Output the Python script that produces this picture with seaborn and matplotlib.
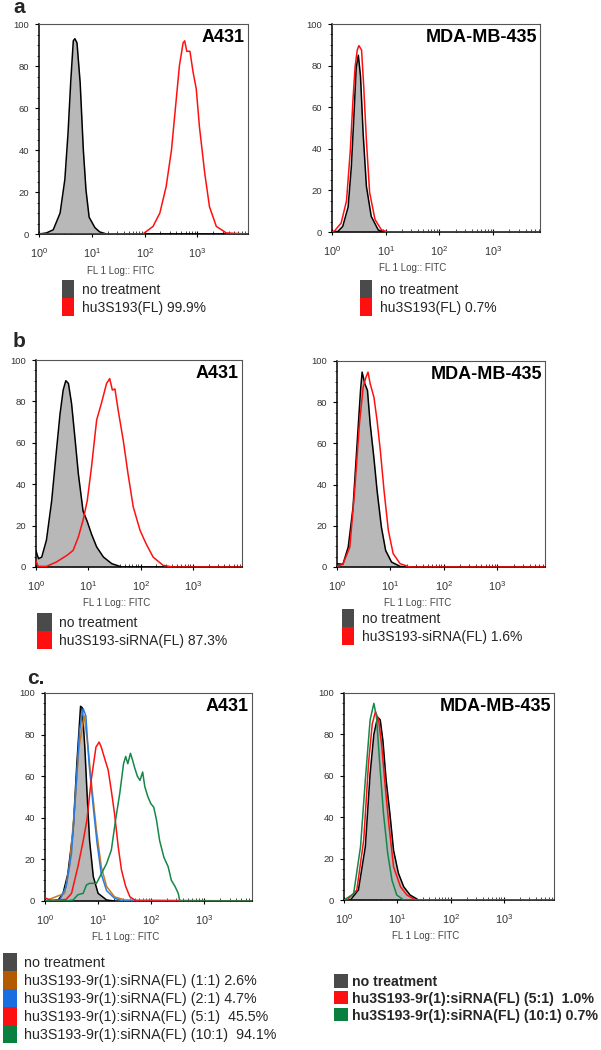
import numpy as np
import pandas as pd
import matplotlib
matplotlib.use("Agg")
import matplotlib.pyplot as plt
import seaborn as sns
from matplotlib.patches import Patch
from matplotlib.ticker import LogLocator, MultipleLocator, NullFormatter, LogFormatterMathtext

# ---------------- data (log10 FL1 positions, % of max counts) ----------------
CTRL = "no treatment"

# panel a, A431
a1_ctrl_log = [0.0, 0.14, 0.27, 0.40, 0.49, 0.55, 0.60, 0.65, 0.68, 0.72, 0.78, 0.84, 0.89, 0.95, 1.06, 1.15, 1.28, 3.96]
a1_ctrl_cnt = [0, 0.5, 2, 10, 26, 48, 72, 92, 93, 91, 72, 40, 21, 8, 3, 1, 0, 0]
a1_trt_log = [0.0, 1.97, 2.16, 2.29, 2.41, 2.51, 2.60, 2.66, 2.73, 2.76, 2.80, 2.86, 2.92, 2.98, 3.04, 3.14, 3.23, 3.36, 3.55, 3.96]
a1_trt_cnt = [0, 0, 3.6, 10, 22.7, 40, 64, 80, 91, 92, 87, 87, 77, 69, 51, 29, 13, 3.6, 0.5, 0]
# panel a, MDA-MB-435
a2_ctrl_log = [0.0, 0.11, 0.2, 0.3, 0.36, 0.41, 0.45, 0.49, 0.53, 0.58, 0.64, 0.73, 0.86, 0.95, 3.87]
a2_ctrl_cnt = [0, 0.3, 2.7, 12, 31.5, 57, 79, 85, 75, 47, 22, 7.5, 1, 0, 0]
a2_trt_log = [0.0, 0.05, 0.17, 0.27, 0.34, 0.39, 0.43, 0.47, 0.5, 0.55, 0.59, 0.64, 0.70, 0.8, 0.92, 1.04, 3.87]
a2_trt_cnt = [0, 0.6, 4.3, 15, 39, 63.5, 79.5, 87.5, 89.6, 87.5, 70, 44, 19, 6, 1, 0, 0]

# panel b, A431
b1_ctrl_log = [0.0, 0.02, 0.05, 0.11, 0.2, 0.3, 0.39, 0.46, 0.52, 0.57, 0.62, 0.68, 0.75, 0.81, 0.9, 0.98, 1.06, 1.16, 1.29, 1.45, 1.64, 3.94]
b1_ctrl_cnt = [8, 6, 4, 4.8, 13, 32, 56, 74, 85.5, 90, 88.7, 79, 61, 45, 27, 22, 16, 9.7, 4.8, 1.6, 0, 0]
b1_trt_log = [0.0, 0.04, 0.2, 0.39, 0.59, 0.71, 0.81, 0.9, 0.98, 1.06, 1.16, 1.25, 1.35, 1.41, 1.46, 1.51, 1.57, 1.67, 1.76, 1.86, 1.99, 2.11, 2.24, 2.43, 2.62, 3.94]
b1_trt_cnt = [3, 0.3, 0.3, 2.4, 5.6, 8, 14.5, 22.6, 32, 48, 71, 79, 88.7, 91, 85.5, 86, 76, 61, 45, 29, 17.7, 11, 4.8, 0.8, 0, 0]
# panel b, MDA-MB-435
b2_ctrl_log = [0.0, 0.11, 0.21, 0.3, 0.38, 0.44, 0.47, 0.52, 0.57, 0.62, 0.69, 0.75, 0.83, 0.91, 1.02, 1.18, 1.3, 3.89]
b2_ctrl_cnt = [1.6, 1.3, 9.7, 29, 61.5, 85.7, 94.6, 89, 85.7, 69.6, 53, 37, 19.4, 8, 2.4, 0.3, 0, 0]
b2_trt_log = [0.0, 0.11, 0.24, 0.33, 0.42, 0.49, 0.54, 0.58, 0.62, 0.69, 0.75, 0.81, 0.88, 0.96, 1.05, 1.18, 1.36, 3.89]
b2_trt_cnt = [0.3, 1.3, 9.7, 37, 69.6, 87.4, 92, 94.6, 89, 82.5, 71, 56.6, 37, 17.8, 6.5, 1.6, 0, 0]

# panel c, A431
c1_ctrl_log = [0.0, 0.25, 0.34, 0.43, 0.53, 0.6, 0.67, 0.7, 0.75, 0.79, 0.84, 0.91, 1.0, 1.16, 1.3]
c1_ctrl_cnt = [0, 0.5, 3.7, 13, 34, 66, 93.6, 93, 74, 53, 29, 11.7, 3.7, 0.5, 0]
c1_r11_log = [0.0, 0.37, 0.46, 0.55, 0.64, 0.74, 0.81, 0.89, 0.97, 1.06, 1.16, 1.31, 1.5, 3.9]
c1_r11_cnt = [0, 3.7, 16.5, 42, 74, 89, 74, 53, 34, 16.5, 7, 2, 0.5, 0]
c1_r21_log = [0.0, 0.28, 0.4, 0.5, 0.58, 0.65, 0.72, 0.77, 0.83, 0.91, 0.98, 1.06, 1.16, 1.31, 1.47, 3.9]
c1_r21_cnt = [0, 0.5, 7, 23, 53, 82, 92.5, 89, 66, 45, 28, 13, 5, 1.3, 0, 0]
c1_r51_log = [0.0, 0.02, 0.15, 0.4, 0.5, 0.62, 0.72, 0.79, 0.87, 0.96, 1.02, 1.06, 1.13, 1.19, 1.25, 1.31, 1.38, 1.44, 1.52, 1.6, 1.72, 3.9]
c1_r51_cnt = [1.5, 1.3, 0, 0.8, 3.7, 16.5, 29, 39, 58, 74, 76.4, 74, 68, 63, 53, 42, 26, 15, 7, 2, 0, 0]
c1_r101_log = [0.0, 0.4, 0.53, 0.62, 0.72, 0.78, 0.84, 0.97, 1.06, 1.16, 1.25, 1.33, 1.41, 1.48, 1.52, 1.56, 1.61, 1.65, 1.69, 1.74, 1.79, 1.84, 1.88, 1.94, 1.99, 2.05, 2.1, 2.16, 2.24, 2.32, 2.38, 2.45, 2.51, 2.54, 3.9]
c1_r101_cnt = [0, 0, 0.5, 3, 3.7, 7.7, 8.5, 8.5, 13, 18, 24.5, 39, 52, 66, 69.5, 66, 71, 67.7, 64, 60, 58, 62, 55, 50, 47, 45, 39, 29, 21, 16.5, 10, 7, 3.7, 0, 0]
# panel c, MDA-MB-435
c2_ctrl_log = [0.0, 0.12, 0.27, 0.4, 0.49, 0.56, 0.63, 0.68, 0.73, 0.79, 0.86, 0.93, 1.02, 1.12, 1.24, 1.4, 3.94]
c2_ctrl_cnt = [0, 0, 4.8, 25.7, 61, 80, 88.4, 87, 77, 58, 42, 24, 13, 6.4, 2.4, 0, 0]
c2_r51_log = [0.0, 0.06, 0.24, 0.37, 0.46, 0.53, 0.59, 0.65, 0.71, 0.78, 0.84, 0.93, 1.06, 1.18, 1.34, 3.94]
c2_r51_cnt = [0, 0, 4.8, 29, 66, 85, 91, 87, 74, 53, 37, 16, 6.4, 2.4, 0, 0]
c2_r101_log = [0.0, 0.02, 0.18, 0.31, 0.4, 0.49, 0.56, 0.61, 0.67, 0.74, 0.82, 0.9, 0.99, 1.12, 3.94]
c2_r101_cnt = [0, 0.3, 3, 25.7, 58, 87, 95, 88.4, 66, 42, 22.5, 9.6, 2.4, 0, 0]

a1_labels = [CTRL, "hu3S193(FL) 99.9%"]
a2_labels = [CTRL, "hu3S193(FL) 0.7%"]
b1_labels = [CTRL, "hu3S193-siRNA(FL) 87.3%"]
b2_labels = [CTRL, "hu3S193-siRNA(FL) 1.6%"]
c1_labels = [CTRL, "hu3S193-9r(1):siRNA(FL) (1:1) 2.6%", "hu3S193-9r(1):siRNA(FL) (2:1) 4.7%",
             "hu3S193-9r(1):siRNA(FL) (5:1)  45.5%", "hu3S193-9r(1):siRNA(FL) (10:1)  94.1%"]
c2_labels = [CTRL, "hu3S193-9r(1):siRNA(FL) (5:1)  1.0%", "hu3S193-9r(1):siRNA(FL) (10:1) 0.7%"]

# ---------------- style ----------------
sns.set_style("ticks")
plt.rcParams["font.family"] = ["Liberation Sans", "DejaVu Sans"]
plt.rcParams["mathtext.fontset"] = "custom"
plt.rcParams["mathtext.rm"] = "Liberation Sans"
plt.rcParams["mathtext.it"] = "Liberation Sans:italic"
plt.rcParams["mathtext.bf"] = "Liberation Sans:bold"

FILL = "#b8b8b8"
LEG_GRAY = "#4a4a4a"
RED = "#ff1010"
ORANGE = "#c87a1e"
BLUE = "#2a7be0"
GREEN = "#14874a"
LEG_ORANGE = "#b35a00"
LEG_BLUE = "#1a6fe0"
LEG_GREEN = "#0a8040"

W, H = 601, 1050
fig = plt.figure(figsize=(W / 100, H / 100), dpi=100)
fig.patch.set_facecolor("white")


def add_ax(l, t, r, b):
    return fig.add_axes([l / W, 1 - b / H, (r - l) / W, (b - t) / H])


def draw(ax, samples, labels, colors, cell, xmax_log):
    frames = []
    for lab, (lg, cnt) in zip(labels, samples):
        frames.append(pd.DataFrame({"fl": np.power(10.0, lg), "count": cnt, "sample": lab}))
    df = pd.concat(frames, ignore_index=True)
    ax.set_xscale("log")
    ctrl = df[df["sample"] == CTRL]
    ax.fill_between(ctrl["fl"], ctrl["count"], 0, color=FILL, lw=0, zorder=1)
    sns.lineplot(data=df, x="fl", y="count", hue="sample", hue_order=labels,
                 palette=dict(zip(labels, colors)), sort=False, estimator=None,
                 lw=1.1, legend=False, ax=ax, zorder=3, solid_joinstyle="round")
    ax.set_xlim(1, 10 ** xmax_log)
    ax.set_ylim(0, 100)
    ax.xaxis.set_major_locator(LogLocator(base=10, numticks=10))
    ax.xaxis.set_major_formatter(LogFormatterMathtext())
    ax.xaxis.set_minor_locator(LogLocator(base=10, subs=np.arange(2, 10), numticks=20))
    ax.xaxis.set_minor_formatter(NullFormatter())
    ax.yaxis.set_major_locator(MultipleLocator(20))
    ax.yaxis.set_minor_locator(MultipleLocator(5))
    ax.tick_params(axis="both", which="major", labelcolor="#333333",
                   length=3, width=0.8, color="black")
    ax.tick_params(axis="x", which="major", direction="inout", length=5, pad=6, labelsize=7.8)
    ax.tick_params(axis="x", which="minor", direction="in", length=2.5, width=0.6)
    ax.tick_params(axis="y", which="minor", direction="out", length=1.5, width=0.6)
    ax.tick_params(axis="y", which="major", pad=4, labelsize=6.8)
    for s in ["left", "bottom"]:
        ax.spines[s].set_linewidth(1.1)
        ax.spines[s].set_color("black")
    for s in ["top", "right"]:
        ax.spines[s].set_linewidth(0.8)
        ax.spines[s].set_color("#555555")
    ax.set_ylabel("")
    ax.set_xlabel("FL 1 Log:: FITC", fontsize=7, color="#444444", va="top")
    ax.xaxis.set_label_coords(0.39, -0.15)
    ax.text(0.985, 0.975, cell, transform=ax.transAxes, ha="right", va="top",
            fontsize=13, fontweight="bold", color="black")


def legend(ax, labels, colors, x, y, size=10, hl=0.86, hh=1.615, sp=0.0, tp=0.55, weight="normal"):
    handles = [Patch(facecolor=c, edgecolor="none") for c in colors]
    ax.legend(handles, labels, loc="upper left", bbox_to_anchor=(x / W, 1 - y / H),
              bbox_transform=fig.transFigure, frameon=False, borderpad=0, borderaxespad=0,
              handlelength=hl, handleheight=hh, labelspacing=sp, handletextpad=tp,
              prop={"size": size, "weight": weight})


# ---------------- panels ----------------
ax = add_ax(39, 24, 248, 234)
draw(ax, [(a1_ctrl_log, a1_ctrl_cnt), (a1_trt_log, a1_trt_cnt)], a1_labels, ["black", RED], "A431", 3.96)
legend(ax, a1_labels, [LEG_GRAY, RED], 62, 280)

ax = add_ax(332, 24, 540, 232)
draw(ax, [(a2_ctrl_log, a2_ctrl_cnt), (a2_trt_log, a2_trt_cnt)], a2_labels, ["black", RED], "MDA-MB-435", 3.87)
legend(ax, a2_labels, [LEG_GRAY, RED], 360, 280)

ax = add_ax(36, 360, 242, 567)
draw(ax, [(b1_ctrl_log, b1_ctrl_cnt), (b1_trt_log, b1_trt_cnt)], b1_labels, ["black", RED], "A431", 3.94)
legend(ax, b1_labels, [LEG_GRAY, RED], 37, 613, hl=1.05)

ax = add_ax(337, 361, 545, 567)
draw(ax, [(b2_ctrl_log, b2_ctrl_cnt), (b2_trt_log, b2_trt_cnt)], b2_labels, ["black", RED], "MDA-MB-435", 3.89)
legend(ax, b2_labels, [LEG_GRAY, RED], 342, 609)

ax = add_ax(45, 693, 252, 901)
draw(ax, [(c1_ctrl_log, c1_ctrl_cnt), (c1_r11_log, c1_r11_cnt), (c1_r21_log, c1_r21_cnt),
          (c1_r51_log, c1_r51_cnt), (c1_r101_log, c1_r101_cnt)], c1_labels,
     ["black", ORANGE, BLUE, RED, GREEN], "A431", 3.9)
legend(ax, c1_labels, [LEG_GRAY, LEG_ORANGE, LEG_BLUE, RED, LEG_GREEN], 3, 953,
       size=10.3, hl=0.95, hh=1.56, tp=0.55)

ax = add_ax(344, 693, 554, 900)
draw(ax, [(c2_ctrl_log, c2_ctrl_cnt), (c2_r51_log, c2_r51_cnt), (c2_r101_log, c2_r101_cnt)], c2_labels,
     ["black", RED, GREEN], "MDA-MB-435", 3.94)
legend(ax, c2_labels, [LEG_GRAY, RED, LEG_GREEN], 334, 974, size=10.2, hl=1.0, hh=1.09,
       sp=0.17, tp=0.3, weight="bold")

# panel letters
fig.text(13 / W, 1 - 13 / H, "a", fontsize=15, fontweight="bold", va="baseline", ha="left")
fig.text(13 / W, 1 - 347 / H, "b", fontsize=15, fontweight="bold", va="baseline", ha="left")
fig.text(27 / W, 1 - 684 / H, "c.", fontsize=15, fontweight="bold", va="baseline", ha="left")

fig.savefig("out.png", dpi=100, facecolor="white")
